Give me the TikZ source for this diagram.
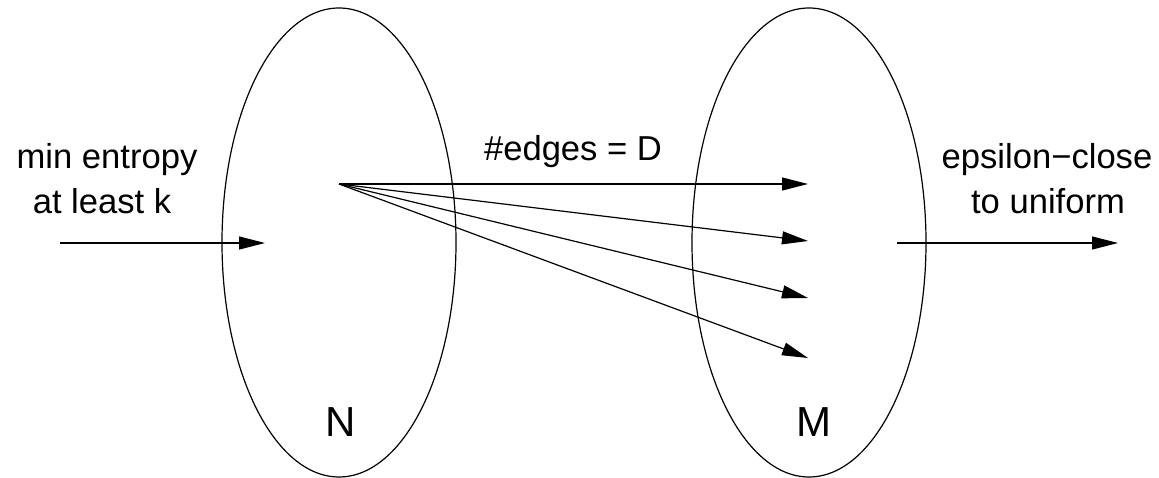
\documentclass[tikz,border=0pt]{standalone}
\usepackage{fontspec}
\setmainfont{Liberation Sans}
\usetikzlibrary{shapes.geometric,arrows.meta}
\tikzset{
  set/.style={draw, ellipse, line width=1.2pt, minimum width=234pt, minimum height=469pt, inner sep=0pt},
  txt/.style={anchor=base, inner sep=0pt, font=\fontsize{34.6}{45}\selectfont},
  big/.style={anchor=base, inner sep=0pt, font=\fontsize{42}{50}\selectfont},
  arr/.style={line width=1.2pt, -{Triangle[length=26pt, width=13pt]}}
}
\begin{document}
\begin{tikzpicture}[x=1pt, y=-1pt]
\useasboundingbox (0,0) rectangle (1159,478);
\node[set] (Nset) at (339,242.5) {};
\node[set] (Mset) at (809,242.5) {};
\node[big] (Nlab) at (341,436) {N};
\node[big] (Mlab) at (814,436) {M};
\node[txt] (in1) at (107,169) {min entropy};
\node[txt] (in2) at (102,214) {at least k};
\node[txt] (out1) at (1047,169) {epsilon\textminus close};
\node[txt] (out2) at (1048,214) {to uniform};
\node[txt] (edges) at (573,161) {\#edges = D};
\coordinate (src) at (339,184);
\coordinate (t1) at (808,184);
\coordinate (t2) at (808,241);
\coordinate (t3) at (808,298);
\coordinate (t4) at (808,358);
\coordinate (inA) at (60,243);
\coordinate (inB) at (265,243);
\coordinate (outA) at (897,243);
\coordinate (outB) at (1118,243);
\draw[arr] (inA) -- (inB);
\draw[arr] (outA) -- (outB);
\draw[arr] (src) -- (t1);
\draw[arr] (src) -- (t2);
\draw[arr] (src) -- (t3);
\draw[arr] (src) -- (t4);
\end{tikzpicture}
\end{document}
